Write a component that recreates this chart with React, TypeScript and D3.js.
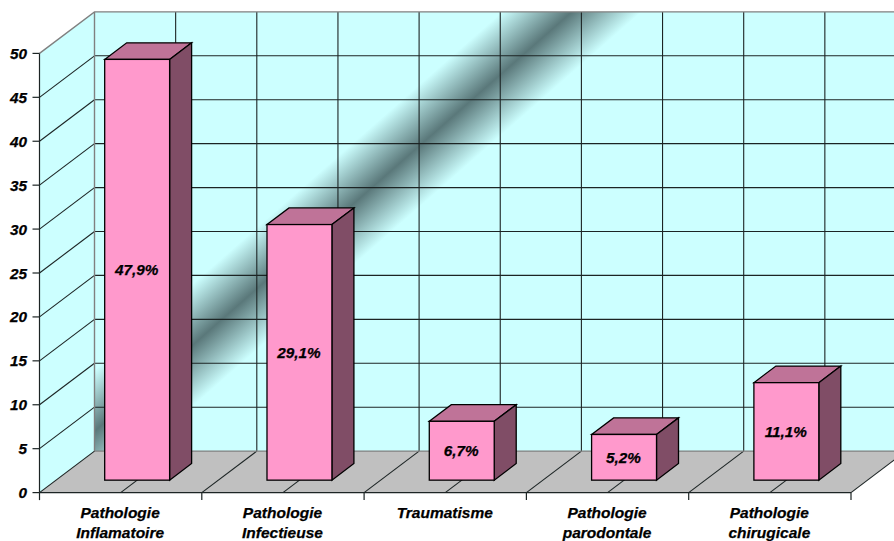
import React from "react";
import * as d3 from "d3";

const categories = [
  ["Pathologie", "Inflamatoire"],
  ["Pathologie", "Infectieuse"],
  ["Traumatisme"],
  ["Pathologie", "parodontale"],
  ["Pathologie", "chirugicale"],
];
const values = [47.9, 29.1, 6.7, 5.2, 11.1];
const valueLabels = ["47,9%", "29,1%", "6,7%", "5,2%", "11,1%"];
const yTicks = [0, 5, 10, 15, 20, 25, 30, 35, 40, 45, 50];

const W = 894;
const H = 541;
const FONT = "'Liberation Sans', Arial, sans-serif";
const WALL = "#ccffff";
const FLOOR = "#c0c0c0";
const BAR_FRONT = "#ff99cc";
const BAR_TOP = "#bf7398";
const BAR_SIDE = "#804d66";
const RIM = "#808080";
const GRID = "#1c2424";

// Oblique projection: the back wall sits this far behind the front plane.
const DX = 55;
const DY = -41.5;
const BAR_DEPTH = 0.4;
const BAR_INSET = 0.3;

// Diagonal band across the back wall: centre point, unit normal, half width.
const BAND_CX = 335;
const BAND_CY = 220;
const BAND_NX = 0.66;
const BAND_NY = 0.751;
const BAND_HALF = 46;

const y = d3.scaleLinear().domain([0, 50]).range([492.6, 53.4]);
const x = d3
  .scaleBand<number>()
  .domain(categories.map((_, i) => i))
  .range([39.5, 851])
  .paddingInner(0)
  .paddingOuter(0);

const pts = (p: [number, number][]) => p.map((d) => d.join(",")).join(" ");

const textStyle = {
  fontFamily: FONT,
  fontWeight: "bold",
  fontStyle: "italic",
  fill: "#000",
  stroke: "#000",
  strokeWidth: 0.25,
} as const;

export default function App() {
  const x0 = x.range()[0];
  const x1 = x.range()[1];
  const step = x.step();
  const y0 = y(0);
  const y50 = y(50);
  const verticals = d3.range(0, 11).map((i) => x0 + (i * step) / 2);
  const barW = step * 0.4;

  return (
    <svg
      width={W}
      height={H}
      viewBox={`0 0 ${W} ${H}`}
      style={{ position: "fixed", left: 0, top: 0, display: "block", background: "#fff" }}
    >
      <defs>
        <linearGradient
          id="wallBand"
          gradientUnits="userSpaceOnUse"
          x1={BAND_CX - BAND_NX * BAND_HALF}
          y1={BAND_CY - BAND_NY * BAND_HALF}
          x2={BAND_CX + BAND_NX * BAND_HALF}
          y2={BAND_CY + BAND_NY * BAND_HALF}
        >
          <stop offset="0" stopColor={WALL} />
          <stop offset="0.5" stopColor="#5a787a" />
          <stop offset="1" stopColor={WALL} />
        </linearGradient>
      </defs>

      {/* side wall */}
      <polygon
        points={pts([
          [x0, y50],
          [x0 + DX, y50 + DY],
          [x0 + DX, y0 + DY],
          [x0, y0],
        ])}
        fill={WALL}
      />
      {/* back wall with its diagonal band */}
      <rect x={x0 + DX} y={y50 + DY} width={W - x0 - DX} height={y0 - y50} fill="url(#wallBand)" />
      {/* floor */}
      <polygon
        points={pts([
          [x0, y0],
          [x0 + DX, y0 + DY],
          [x1 + DX, y0 + DY],
          [x1, y0],
        ])}
        fill={FLOOR}
      />

      {/* value gridlines on the back and side walls */}
      {yTicks.slice(1, -1).map((t) => (
        <g key={t} stroke={GRID} strokeWidth={1.1} fill="none">
          <line x1={x0} y1={y(t)} x2={x0 + DX} y2={y(t) + DY} />
          <line x1={x0 + DX} y1={y(t) + DY} x2={W} y2={y(t) + DY} />
        </g>
      ))}
      {/* category gridlines on the back wall and floor */}
      {verticals.map((vx, i) => (
        <g key={i} stroke={GRID} strokeWidth={1.1} fill="none">
          {i > 0 && vx + DX < W && <line x1={vx + DX} y1={y50 + DY} x2={vx + DX} y2={y0 + DY} />}
          {i > 0 && <line x1={vx} y1={y0} x2={vx + DX} y2={y0 + DY} />}
        </g>
      ))}

      {/* wall and floor rims */}
      <g stroke={RIM} fill="none" strokeWidth={1.4}>
        <polyline
          points={pts([
            [x0, y50],
            [x0 + DX, y50 + DY],
            [W, y50 + DY],
          ])}
        />
        <line x1={x0 + DX} y1={y50 + DY} x2={x0 + DX} y2={y0 + DY} />
        <line x1={x0 + DX} y1={y0 + DY} x2={W} y2={y0 + DY} />
      </g>
      <line x1={x0} y1={y0} x2={x0 + DX} y2={y0 + DY} stroke={GRID} strokeWidth={1.1} />

      {/* axes */}
      <g stroke={GRID} strokeWidth={1.2} fill="none">
        <line x1={x0} y1={y50} x2={x0} y2={y0} />
        <line x1={x0} y1={y0} x2={x1} y2={y0} />
        {yTicks.map((t) => (
          <line key={t} x1={x0 - 7} y1={y(t)} x2={x0} y2={y(t)} />
        ))}
        {verticals
          .filter((_, i) => i % 2 === 0)
          .map((vx, i) => (
            <line key={i} x1={vx} y1={y0} x2={vx} y2={y0 + 7.5} />
          ))}
      </g>

      {/* bars */}
      {values.map((v, i) => {
        const cx = (x(i) as number) + step / 2 + DX * BAR_INSET;
        const left = cx - barW / 2;
        const right = cx + barW / 2;
        const liftY = DY * BAR_INSET;
        const top = y(v) + liftY;
        const bottom = y0 + liftY;
        const ox = DX * BAR_DEPTH;
        const oy = DY * BAR_DEPTH;
        return (
          <g key={i} stroke="#000" strokeWidth={1.3} strokeLinejoin="miter">
            <polygon
              points={pts([
                [left, top],
                [left + ox, top + oy],
                [right + ox, top + oy],
                [right, top],
              ])}
              fill={BAR_TOP}
            />
            <polygon
              points={pts([
                [right, top],
                [right + ox, top + oy],
                [right + ox, bottom + oy],
                [right, bottom],
              ])}
              fill={BAR_SIDE}
            />
            <rect x={left} y={top} width={barW} height={bottom - top} fill={BAR_FRONT} />
            <text x={cx - 0.5} y={(top + bottom) / 2 + 5.5} textAnchor="middle" fontSize={15.3} style={textStyle}>
              {valueLabels[i]}
            </text>
          </g>
        );
      })}

      {/* value axis labels */}
      {yTicks.map((t) => (
        <text key={t} x={27} y={y(t) + 5.5} textAnchor="end" fontSize={15.3} style={textStyle}>
          {t}
        </text>
      ))}

      {/* category labels */}
      {categories.map((lines, i) => (
        <text key={i} textAnchor="middle" fontSize={15.5} style={textStyle}>
          {lines.map((line, j) => (
            <tspan key={j} x={(x(i) as number) + step / 2 - 0.5} y={517.5 + j * 20}>
              {line}
            </tspan>
          ))}
        </text>
      ))}
    </svg>
  );
}
